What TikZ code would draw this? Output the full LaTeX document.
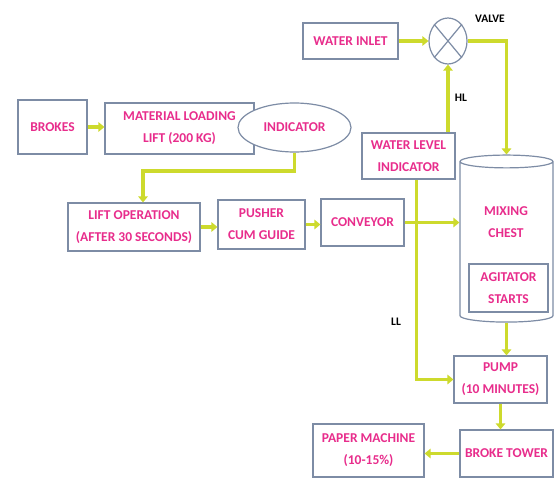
\documentclass[tikz,border=0pt]{standalone}
\usepackage{fontspec}
\setmainfont{Carlito}
\usetikzlibrary{shapes.geometric, arrows.meta, positioning, calc}

\definecolor{boxline}{RGB}{125,140,165}
\definecolor{pinktext}{RGB}{232,45,140}
\definecolor{flowcol}{RGB}{205,218,45}

\tikzset{
  box/.style={draw=boxline, line width=1.2pt, fill=white, text=pinktext,
    font=\bfseries\fontsize{13.5}{22}\selectfont, align=center, inner sep=2pt},
  flow/.style={draw=flowcol, line width=3.8pt, -{Triangle[length=6pt,width=9.5pt]}},
  tag/.style={font=\bfseries\fontsize{11.5}{12}\selectfont, text=black}
}

\begin{document}
\begin{tikzpicture}[x=1pt, y=-1pt]
\useasboundingbox (0,0) rectangle (555,479);

% left chain
\node[box, minimum width=69pt, minimum height=54pt] (brokes) at (52.5,127) {BROKES};
\node[box, minimum width=149pt, minimum height=51pt] (lift) at (179.5,128.5) {MATERIAL LOADING\\LIFT (200 KG)};
\node[box, ellipse, minimum width=113pt, minimum height=49pt] (indic) at (294.5,127.5) {INDICATOR};
\node[box, minimum width=132pt, minimum height=48pt] (liftop) at (134,227) {LIFT OPERATION\\(AFTER 30 SECONDS)};
\node[box, minimum width=87pt, minimum height=49pt] (pusher) at (261.5,224.5) {PUSHER\\CUM GUIDE};
\node[box, minimum width=83pt, minimum height=47pt] (conveyor) at (362.5,222.5) {CONVEYOR};

% water side
\node[box, minimum width=95pt, minimum height=36pt] (inlet) at (350.5,41) {WATER INLET};
\node[box, ellipse, minimum width=38pt, minimum height=46pt, inner sep=0pt] (valve) at (448,41) {};
\draw[boxline, line width=1.2pt] (valve.north west) -- (valve.south east)
  (valve.north east) -- (valve.south west);
\node[box, minimum width=93pt, minimum height=46pt] (wli) at (408.5,156) {WATER LEVEL\\INDICATOR};

% mixing chest
\node[box, cylinder, shape border rotate=90, aspect=3.2,
  minimum width=93pt, minimum height=167pt] (chest) at (506.5,243) {};
\node[box, draw=none, fill=none] (chesttxt) at (506,222) {MIXING\\CHEST};
\node[box, minimum width=79pt, minimum height=48pt] (agit) at (508.5,288) {AGITATOR\\STARTS};

% bottom chain
\node[box, minimum width=93pt, minimum height=47pt] (pump) at (500.5,379.5) {PUMP\\(10 MINUTES)};
\node[box, minimum width=93pt, minimum height=47pt] (tower) at (506.5,453.5) {BROKE TOWER};
\node[box, minimum width=111pt, minimum height=53pt] (paper) at (368.5,450.5) {PAPER MACHINE\\(10-15\%)};

% labels
\node[tag] (valvetag) at (490,19) {VALVE};
\node[tag] (hltag) at (461,98) {HL};
\node[tag] (lltag) at (396,322) {LL};

% connectors
\coordinate (bend) at (296,171);
\draw[flow] (brokes.east) -- (brokes.east -| lift.west);
\draw[flow] (indic.south) -- (indic.south |- bend) -| ([xshift=9pt]liftop.north);
\draw[flow] (liftop.east) -- (liftop.east -| pusher.west);
\draw[flow] (pusher.east) -- (pusher.east -| conveyor.west);
\draw[flow] (inlet.east) -- (inlet.east -| valve.west);
\draw[flow] (wli.north -| valve.south) -- (valve.south);
\draw[flow] (valve.east) -| (chest.north);
\draw[flow] ([xshift=8pt]wli.south) |- (pump.west);
\draw[flow] (conveyor.east) -- (conveyor.east -| chest.west);
\draw[flow] (chest.south) -- (pump.north -| chest.south);
\draw[flow] (pump.south) -- (pump.south |- tower.north);
\draw[flow] (tower.west) -- (tower.west -| paper.east);
\end{tikzpicture}
\end{document}
